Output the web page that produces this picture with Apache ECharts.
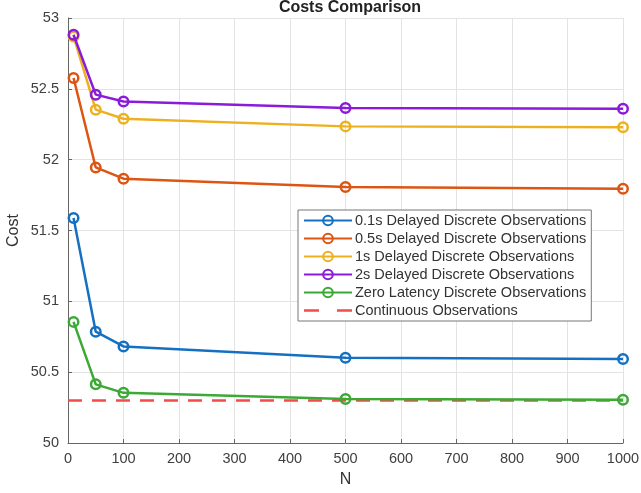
<!DOCTYPE html>
<html><head><meta charset="utf-8">
<script src="https://cdn.jsdelivr.net/npm/echarts@6/dist/echarts.min.js"></script>
<style>html,body{margin:0;padding:0;background:#fff}#c{width:641px;height:493px}</style>
</head><body><div id="c"></div>
<script>
var N = [10, 50, 100, 500, 1000];
var names = ['0.1s Delayed Discrete Observations','0.5s Delayed Discrete Observations','1s Delayed Discrete Observations','2s Delayed Discrete Observations','Zero Latency Discrete Observations','Continuous Observations'];
var d01 = [51.588, 50.786, 50.682, 50.602, 50.593];
var d05 = [52.576, 51.945, 51.866, 51.807, 51.795];
var d1  = [52.87, 52.353, 52.289, 52.235, 52.228];
var d2  = [52.882, 52.459, 52.411, 52.365, 52.36];
var d0  = [50.855, 50.414, 50.354, 50.31, 50.305];
var contX = [0, 1000];
var contY = [50.3, 50.3];
var colors = ['#1570C2','#DD5513','#EDB120','#8A1BD8','#3BA934','#F24B4B'];
function pairs(xs, ys){return xs.map(function(x,i){return [x, ys[i]];});}
function ser(i, ys){
  return {name:names[i], type:'line', data:pairs(N, ys), symbol:'circle', symbolSize:9.5,
    lineStyle:{width:2.5,color:colors[i]}, itemStyle:{color:'rgba(255,255,255,0)', borderWidth:2.5, borderColor:colors[i]},
    emphasis:{disabled:true}, z:3+i};
}
var series = [ser(0,d01), ser(1,d05), ser(2,d1), ser(3,d2), ser(4,d0),
  {name:names[5], type:'line', data:pairs(contX, contY), symbol:'none', lineStyle:{width:2.5,type:[14,10],color:colors[5]}, itemStyle:{color:colors[5]}, z:2}];
var legendData = names.map(function(n,i){
  if(i<5) return {name:n};
  return {name:n, icon:'path://M0,0h0.05v0.05h-0.05z M0,4.8h15v2.4h-15z M33,4.8h15v2.4h-15z M47.95,11.95h0.05v0.05h-0.05z', itemStyle:{color:colors[i]}};
});
var chart = echarts.init(document.getElementById('c'));
chart.setOption({
  animation:false,
  textStyle:{fontFamily:'Liberation Sans, Arial, sans-serif'},
  title:{text:'Costs Comparison', left:345, textAlign:'center', top:-5, textStyle:{fontSize:16, fontWeight:'bold', color:'#222'}},
  grid:{left:68, right:18, top:18, bottom:50, containLabel:false, outerBoundsMode:'none'},
  xAxis:{type:'value', min:0, max:1000, interval:100, name:'N', nameLocation:'middle', nameGap:29,
    nameTextStyle:{fontSize:16,color:'#333'},
    axisLine:{show:true,onZero:false,lineStyle:{color:'#666',width:1}},
    axisTick:{show:true,inside:true,length:4,lineStyle:{color:'#666'}},
    axisLabel:{fontSize:14.5,color:'#404040',margin:8,formatter:function(v){return String(v);}},
    splitLine:{show:true,lineStyle:{color:'#e3e3e3',width:1}}},
  yAxis:{type:'value', min:50, max:53, interval:0.5, name:'Cost', nameLocation:'middle', nameGap:46, nameMoveOverlap:false,
    nameTextStyle:{fontSize:16,color:'#333'},
    axisLine:{show:true,onZero:false,lineStyle:{color:'#666',width:1}},
    axisTick:{show:true,inside:true,length:4,lineStyle:{color:'#666'}},
    axisLabel:{fontSize:14.5,color:'#404040',margin:9},
    splitLine:{show:true,lineStyle:{color:'#e3e3e3',width:1}}},
  legend:{orient:'vertical', left:298, top:210, padding:[3,5,3,5], itemGap:3, itemWidth:48, itemHeight:12,
    backgroundColor:'#fff', borderColor:'#777', borderWidth:1, borderRadius:0,
    textStyle:{fontSize:14.5,color:'#333',lineHeight:14,padding:[0,0,0,-2]},
    data:legendData},
  series:series
});
</script></body></html>
